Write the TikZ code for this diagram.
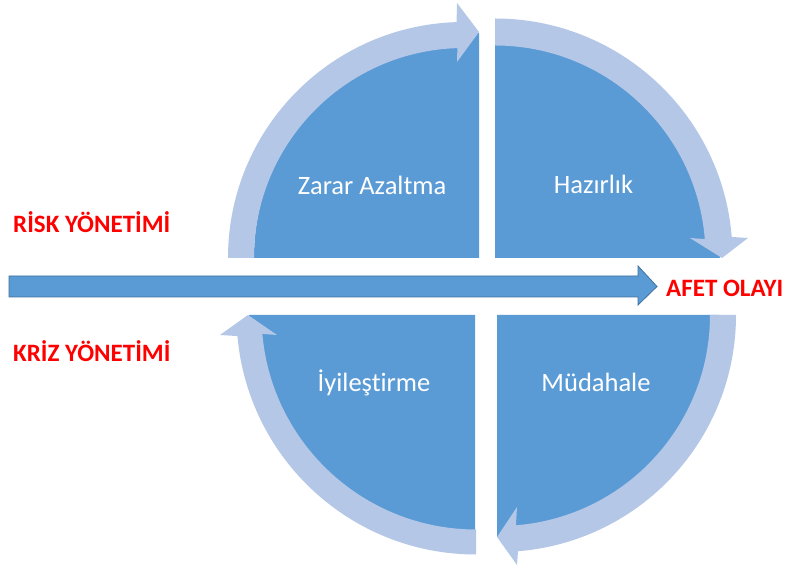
\documentclass[tikz,border=0pt]{standalone}
\usepackage{fontspec}
\setmainfont{Carlito}[Ligatures={NoCommon}]
\usetikzlibrary{calc}
\definecolor{pieblue}{HTML}{5B9BD5}
\definecolor{bandblue}{HTML}{B4C7E7}
\definecolor{arrowedge}{HTML}{41719C}
\begin{document}
\begin{tikzpicture}[x=1pt,y=1pt,
  pie/.style={fill=pieblue},
  band/.style={fill=bandblue},
  phase/.style={text=white,font=\fontsize{26.5}{30}\selectfont,inner sep=0pt,anchor=base},
  redlabel/.style={text=red,font=\bfseries\fontsize{25}{28}\selectfont,inner sep=0pt,anchor=base west}]
\useasboundingbox[fill=white] (0,0) rectangle (787,572);
% pies
\fill[pie] (479,314) -- (254,314) arc[start angle=180,end angle=90,radius=225] -- cycle;
\fill[pie] (495,314) -- (495,539) arc[start angle=90,end angle=0,radius=225] -- cycle;
\fill[pie] (475,257) -- (475,31) arc[start angle=270,end angle=180,radius=226] -- cycle;
\fill[pie] (497,257) -- (719,257) arc[start angle=0,end angle=-90,radius=222] -- cycle;
% bands with arrowheads
\fill[band] (228,314) arc[start angle=180,end angle=91.8,radius=236] -- (457,569) -- (479,540) -- (457,510) -- ([shift={(464,314)}]91.8:210) arc[start angle=91.8,end angle=180,radius=210] -- cycle;
\fill[band] (495,553.5) arc[start angle=90,end angle=4.6,radius=237.5] -- (748,334) -- (722,314) -- (690,334) -- ([shift={(495,316)}]4.6:210.5) arc[start angle=4.6,end angle=90,radius=210.5] -- cycle;
\fill[band] (476,17.5) arc[start angle=270,end angle=185.05,radius=239.5] -- (220,237) -- (248,257) -- (277,237) -- ([shift={(476,257)}]185.05:214.5) arc[start angle=185.05,end angle=270,radius=214.5] -- cycle;
\fill[band] (736,257) arc[start angle=0,end angle=-85.4,radius=237] -- (517,7) -- (497,35) -- (517,65) -- ([shift={(499,257)}]-85.4:211) arc[start angle=-85.4,end angle=0,radius=211] -- cycle;
% horizontal arrow
\draw[fill=pieblue,draw=arrowedge,line width=0.8pt] (9,296) -- (638,296) -- (638,306) -- (657,285.5) -- (638,267) -- (638,275) -- (9,275) -- cycle;
% texts
\node[phase] (zarar) at (372,377) {Zarar Azaltma};
\node[phase] (hazir) at (593.5,378) {Hazırlık};
\node[phase] (iyi) at (374,180) {İyileştirme};
\node[phase] (mud) at (596,180) {Müdahale};
\node[redlabel] (risk) at (13,339) {RİSK YÖNETİMİ};
\node[redlabel] (kriz) at (13,210) {KRİZ YÖNETİMİ};
\node[redlabel] (afet) at (666,275) {AFET OLAYI};
\end{tikzpicture}
\end{document}
